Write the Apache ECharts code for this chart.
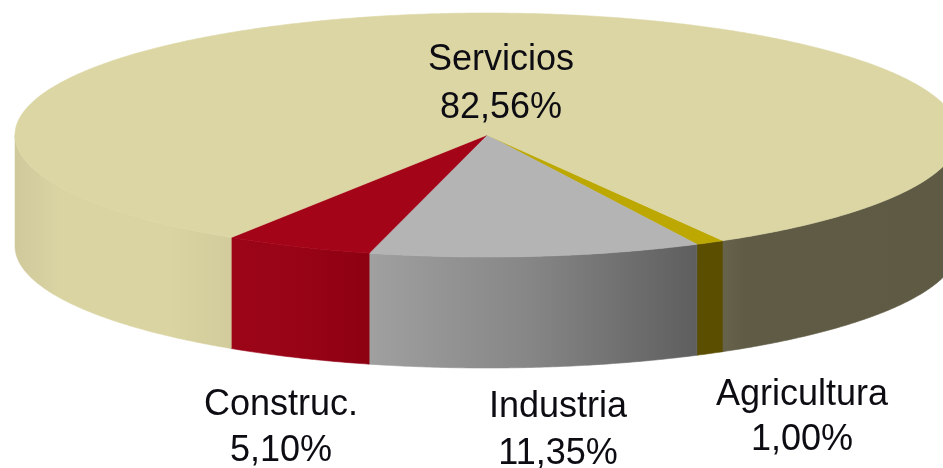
<!DOCTYPE html>
<html>
<head>
<meta charset="utf-8">
<style>
html, body { margin: 0; padding: 0; background: #fff; }
#c { width: 943px; height: 468px; }
</style>
<script src="https://cdn.jsdelivr.net/npm/echarts@6/dist/echarts.min.js"></script>
</head>
<body>
<div id="c"></div>
<script>
var categories = ['Agricultura', 'Industria', 'Construc.', 'Servicios'];
var shares = [1.00, 11.35, 5.10, 82.56];

var topColors = ['#bca800', '#b3b4b3', '#a40418', '#dcd6a4'];
var wallAgri = [[699, '#5c4e00'], [724, '#5c4e00']];
var wallInd = [[369, '#a0a0a0'], [530, '#868686'], [698, '#5e5e5e']];
var wallCon = [[230, '#9c0518'], [300, '#980416'], [369, '#8c0012']];
var wallSerLeft = [[15, '#cfc99c'], [60, '#dad4a3'], [170, '#dad4a2'], [230, '#d2cc9c']];
var wallSerRight = [[723, '#66624b'], [745, '#5f5b45'], [943, '#5e5a44']];
var wallStops = [[wallAgri], [wallInd], [wallCon], [wallSerLeft, wallSerRight]];
var labelPlaces = [[802, 395, 440], [558, 407, 454], [281, 405, 451], [501, 60, 108]];

var CX = 487, CY = 135, RX = 472, RY = 122, DEPTH = 111, START = 60;

function sumOf(list) {
  var s = 0;
  for (var i = 0; i < list.length; i++) { s += list[i]; }
  return s;
}
var total = sumOf(shares);

function pt(deg, dy) {
  var r = deg * Math.PI / 180;
  return [CX + RX * Math.cos(r), CY + dy + RY * Math.sin(r)];
}
function arc(a, b, dy) {
  var pts = [];
  var n = Math.max(2, Math.ceil(Math.abs(b - a) * 2));
  for (var i = 0; i <= n; i++) {
    pts.push(pt(a + (b - a) * i / n, dy));
  }
  return pts;
}
function visibleRanges(a, b) {
  var out = [];
  var windows = [[0, 180], [360, 540]];
  for (var i = 0; i < windows.length; i++) {
    var s = Math.max(a, windows[i][0]);
    var e = Math.min(b, windows[i][1]);
    if (e > s) { out.push([s, e]); }
  }
  return out;
}
function fmt(v) {
  return v.toFixed(2).replace('.', ',') + '%';
}
function gradient(stops) {
  var x0 = stops[0][0];
  var x1 = stops[stops.length - 1][0];
  var cs = [];
  for (var i = 0; i < stops.length; i++) {
    cs.push({ offset: (stops[i][0] - x0) / (x1 - x0), color: stops[i][1] });
  }
  return { type: 'linear', global: true, x: x0, y: 0, x2: x1, y2: 0, colorStops: cs };
}

function renderItem(params, api) {
  var i = params.dataIndex;
  var a = START + sumOf(shares.slice(0, i)) / total * 360;
  var b = a + api.value(0) / total * 360;
  var children = [];

  var ranges = visibleRanges(a, b);
  for (var k = 0; k < ranges.length; k++) {
    var up = arc(ranges[k][0], ranges[k][1], 0);
    var low = arc(ranges[k][1], ranges[k][0], DEPTH);
    var g = gradient(wallStops[i][k]);
    children.push({
      type: 'polygon',
      shape: { points: up.concat(low) },
      style: { fill: g, stroke: g, lineWidth: 0.6 }
    });
  }

  children.push({
    type: 'polygon',
    shape: { points: [[CX, CY]].concat(arc(a, b, 0)) },
    style: { fill: topColors[i], stroke: topColors[i], lineWidth: 0.6 }
  });

  var p = labelPlaces[i];
  var font = '36px "Liberation Sans", Arial, sans-serif';
  children.push({
    type: 'text',
    style: { text: categories[i], x: p[0], y: p[1], align: 'center', verticalAlign: 'middle', font: font, fill: '#0c0c12' }
  });
  children.push({
    type: 'text',
    style: { text: fmt(api.value(0)), x: p[0], y: p[2], align: 'center', verticalAlign: 'middle', font: font, fill: '#0c0c12' }
  });
  return { type: 'group', children: children };
}

var chartData = [];
for (var d = 0; d < shares.length; d++) {
  chartData.push({ name: categories[d], value: [shares[d]] });
}

var chart = echarts.init(document.getElementById('c'), null, { renderer: 'canvas' });
chart.setOption({
  animation: false,
  backgroundColor: '#fff',
  series: [{
    type: 'custom',
    coordinateSystem: 'none',
    silent: true,
    renderItem: renderItem,
    data: chartData
  }]
});
</script>
</body>
</html>
